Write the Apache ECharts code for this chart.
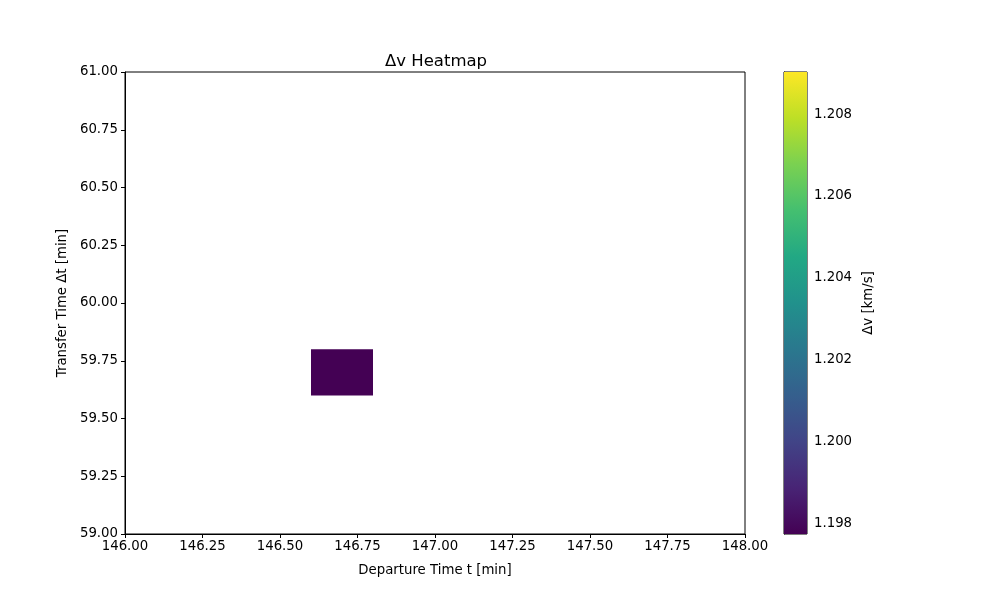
<!DOCTYPE html>
<html>
<head>
<meta charset="utf-8">
<script src="https://cdn.jsdelivr.net/npm/echarts@6/dist/echarts.min.js"></script>
<style>html,body{margin:0;padding:0;background:#fff;}#c{width:1000px;height:600px;}</style>
</head>
<body>
<div id="c"></div>
<script>
// Data: cells as [departure start, departure end, transfer start, transfer end]
const cellDepStart = [146.6];
const cellDepEnd = [146.8];
const cellDtStart = [59.6];
const cellDtEnd = [59.8];
const cellDv = [1.19774];
const dvMin = 1.19774;
const dvMax = 1.20903;
const xTicks = [146.00,146.25,146.50,146.75,147.00,147.25,147.50,147.75,148.00];
const yTicks = [59.00,59.25,59.50,59.75,60.00,60.25,60.50,60.75,61.00];
const cbTicks = [1.198,1.200,1.202,1.204,1.206,1.208];
const viridis = ['#440154','#482475','#414487','#355f8d','#2a788e','#21918c','#22a884','#44bf70','#7ad151','#bddf26','#fde725'];

const cells = cellDv.map((v,i)=>[cellDepStart[i],cellDepEnd[i],cellDtStart[i],cellDtEnd[i],v]);
const font = 'DejaVu Sans';
const chart = echarts.init(document.getElementById('c'));
const lbl = {color:'#000', fontFamily:font, fontSize:13.3};
chart.setOption({
  animation:false,
  title:{text:'Δv Heatmap', left:431, textAlign:'center', top:48, textStyle:{fontFamily:font, fontSize:16.5, fontWeight:'normal', color:'#000'}},
  visualMap:{show:false, type:'continuous', min:dvMin, max:dvMax, dimension:4, seriesIndex:0, inRange:{color:viridis}},
  grid:[
    {left:125, right:255, top:72, bottom:66, show:true, borderColor:'#000', borderWidth:1, backgroundColor:'#fff'},
    {left:784, width:23, top:72, bottom:66, show:true, borderColor:'#000', borderWidth:1}
  ],
  xAxis:[
    {type:'value', gridIndex:0, min:146, max:148, interval:0.25, name:'Departure Time t [min]', nameLocation:'middle', nameGap:30,
     nameTextStyle:lbl, axisLine:{show:true,lineStyle:{color:'#000'}}, axisTick:{show:true,length:4,lineStyle:{color:'#000'}},
     axisLabel:Object.assign({formatter:v=>v.toFixed(2), margin:6}, lbl), splitLine:{show:false}},
    {type:'value', gridIndex:1, min:0, max:1, show:false}
  ],
  yAxis:[
    {type:'value', gridIndex:0, min:59, max:61, interval:0.25, name:'Transfer Time Δt [min]', nameLocation:'middle', nameGap:56, nameRotate:90,
     nameTextStyle:lbl, axisLine:{show:true,lineStyle:{color:'#000'}}, axisTick:{show:true,length:4,lineStyle:{color:'#000'}},
     axisLabel:Object.assign({formatter:v=>v.toFixed(2), margin:7, verticalAlign:'middle', padding:[6,0,0,0]}, lbl), splitLine:{show:false}},
    {type:'value', gridIndex:1, position:'right', min:dvMin, max:dvMax, name:'Δv [km/s]', nameLocation:'middle', nameGap:55, nameRotate:90,
     nameTextStyle:lbl, axisLine:{show:true,lineStyle:{color:'#000'}},
     axisTick:{show:true,length:4,lineStyle:{color:'#000'},customValues:cbTicks},
     axisLabel:Object.assign({formatter:v=>v.toFixed(3), margin:7, customValues:cbTicks, verticalAlign:'middle', padding:[6,0,0,0]}, lbl), splitLine:{show:false}}
  ],
  series:[
    {type:'custom', xAxisIndex:0, yAxisIndex:0, data:cells, encode:{x:[0,1], y:[2,3]},
     renderItem:(params, api)=>{
       const p0 = api.coord([api.value(0), api.value(3)]);
       const p1 = api.coord([api.value(1), api.value(2)]);
       return {type:'rect', shape:{x:p0[0], y:p0[1], width:p1[0]-p0[0], height:p1[1]-p0[1]}, style:{fill:api.visual('color')}};
     }},
    {type:'custom', xAxisIndex:1, yAxisIndex:1, data:[[0,1,dvMin,dvMax]], encode:{x:[0,1], y:[2,3]}, z:1,
     renderItem:(params, api)=>{
       const p0 = api.coord([api.value(0), api.value(3)]);
       const p1 = api.coord([api.value(1), api.value(2)]);
       const stops = viridis.map((c,i)=>({offset:1-i/(viridis.length-1), color:c})).reverse();
       return {type:'rect', shape:{x:p0[0], y:p0[1], width:p1[0]-p0[0], height:p1[1]-p0[1]},
         style:{fill:new echarts.graphic.LinearGradient(0,0,0,1,stops)}};
     }}
  ]
});
</script>
</body>
</html>
